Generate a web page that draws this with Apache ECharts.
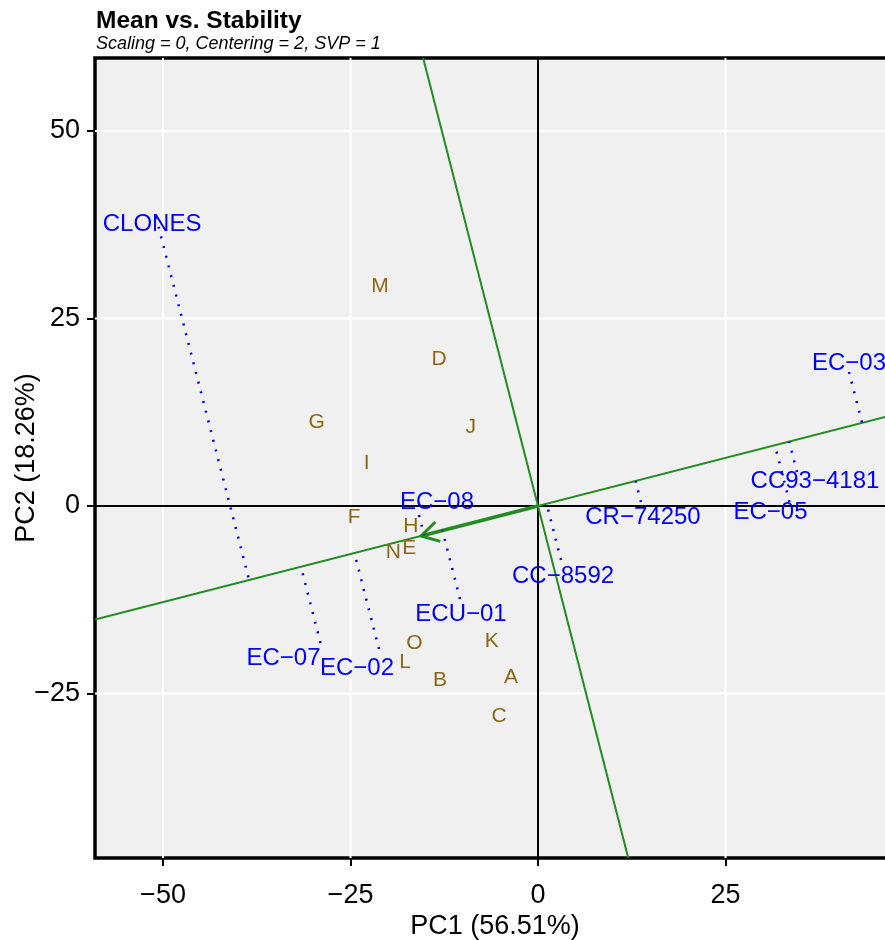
<!DOCTYPE html>
<html><head><meta charset="utf-8">
<script src="https://cdn.jsdelivr.net/npm/echarts@6/dist/echarts.min.js"></script>
<style>html,body{margin:0;padding:0;background:#fff}#c{width:885px;height:940px}</style>
</head><body><div id="c"></div>
<script>
// ---- data ----
const envNames = ['M','D','G','J','I','F','H','E','N','O','L','B','K','A','C'];
const envPC1 = [-21.07,-13.2,-29.51,-8.97,-22.84,-24.53,-16.97,-17.16,-19.29,-16.49,-17.73,-13.07,-6.17,-3.6,-5.2];
const envPC2 = [29.24,19.6,11.11,10.57,5.77,-1.51,-2.63,-5.64,-6.17,-18.31,-20.76,-23.2,-18.09,-22.76,-28.0];
const genoNames = ['CLONES','EC\u221208','ECU\u221201','CC\u22128592','CR\u221274250','EC\u221203','CC93\u22124181','EC\u221205','EC\u221207','EC\u221202'];
const genoPC1 = [-50.93,-15.87,-10.4,3.07,13.73,41.47,34.53,33.53,-29.0,-21.2];
const genoPC2 = [38.53,-1.2,-12.4,-7.2,0.53,17.87,4.53,0.53,-18.27,-19.07];
const aec = [-15.6, -4.0];           // average environment coordinate (arrow tip)
const xTicks = [-50,-25,0,25];
const yTicks = [-25,0,25,50];
const xRange = [-59.07, 47.6];
const yRange = [-46.93, 59.73];

// ---- layout (pixel offsets of genotype labels from their points) ----
const genoLabelOffset = [[-4,7],[18,-13],[1,15],[2,16],[2,15],[0,-9],[18,9],[-19,10],[-37,15],[-22,19]];

const BLUE = '#0000FF', BROWN = '#8B6914', GREEN = '#228B22';
const FONT = '"Liberation Sans", Arial, Helvetica, sans-serif';
const minus = v => String(v).replace('-', '\u2212');

const chart = echarts.init(document.getElementById('c'), null, {renderer: 'canvas'});

const gridItems = xTicks.map(v => ['x', v]).concat(yTicks.map(v => ['y', v]));

function lineSeg(api, a, b, style) {
  const p = api.coord(a), q = api.coord(b);
  return {type: 'line', shape: {x1: p[0], y1: p[1], x2: q[0], y2: q[1]}, style: style};
}

const slope = aec[1] / aec[0];
const aLen2 = aec[0]*aec[0] + aec[1]*aec[1];

const option = {
  animation: false,
  backgroundColor: '#fff',
  textStyle: {fontFamily: FONT},
  title: [
    {text: 'Mean vs. Stability', left: 91, top: 4, padding: 5,
     textStyle: {fontFamily: FONT, fontSize: 24.5, fontWeight: 'bold', color: '#000'}},
    {text: 'Scaling = 0, Centering = 2, SVP = 1', left: 91, top: 30, padding: 5,
     textStyle: {fontFamily: FONT, fontSize: 18, fontStyle: 'italic', fontWeight: 'normal', color: '#000'}}
  ],
  grid: {left: 95, top: 58, width: 800, height: 800, show: true, outerBoundsMode: 'none',
         backgroundColor: '#F0F0F0', borderColor: '#000', borderWidth: 3.5, containLabel: false},
  xAxis: {
    type: 'value', min: xRange[0], max: xRange[1],
    axisLine: {show: false, onZero: false}, splitLine: {show: false},
    axisTick: {show: true, customValues: xTicks, length: 8, lineStyle: {color: '#000', width: 2}},
    axisLabel: {customValues: xTicks, formatter: v => minus(v), fontSize: 27, color: '#000', margin: 24, fontFamily: FONT},
    name: 'PC1 (56.51%)', nameLocation: 'middle', nameGap: 55, nameMoveOverlap: false,
    nameTextStyle: {fontSize: 27, color: '#000', fontFamily: FONT}
  },
  yAxis: {
    type: 'value', min: yRange[0], max: yRange[1],
    axisLine: {show: false, onZero: false}, splitLine: {show: false},
    axisTick: {show: true, customValues: yTicks, length: 8, lineStyle: {color: '#000', width: 2}},
    axisLabel: {customValues: yTicks, formatter: v => minus(v), fontSize: 27, color: '#000', margin: 15, fontFamily: FONT},
    name: 'PC2 (18.26%)', nameLocation: 'middle', nameGap: 55, nameRotate: 90, nameMoveOverlap: false,
    nameTextStyle: {fontSize: 27, color: '#000', fontFamily: FONT}
  },
  series: [
    { // white grid lines
      type: 'custom', z: 1, silent: true, clip: true,
      data: gridItems.map((g, i) => [i]),
      renderItem: (params, api) => {
        const g = gridItems[params.dataIndex];
        const st = {stroke: '#FFFFFF', lineWidth: 2};
        return g[0] === 'x' ? lineSeg(api, [g[1], yRange[0]], [g[1], yRange[1]], st)
                            : lineSeg(api, [xRange[0], g[1]], [xRange[1], g[1]], st);
      }
    },
    { // black zero axes
      type: 'custom', z: 2, silent: true, clip: true,
      data: [[0], [1]],
      renderItem: (params, api) => {
        const st = {stroke: '#000', lineWidth: 2};
        return params.dataIndex === 0 ? lineSeg(api, [0, yRange[0]], [0, yRange[1]], st)
                                      : lineSeg(api, [xRange[0], 0], [xRange[1], 0], st);
      }
    },
    { // ATC abscissa and ordinate, AEC arrow
      type: 'custom', z: 3, silent: true, clip: true,
      data: [[0], [1], [2]],
      renderItem: (params, api) => {
        const i = params.dataIndex;
        if (i === 0) return lineSeg(api, [xRange[0], slope*xRange[0]], [xRange[1], slope*xRange[1]], {stroke: GREEN, lineWidth: 2});
        if (i === 1) return lineSeg(api, [-slope*yRange[0], yRange[0]], [-slope*yRange[1], yRange[1]], {stroke: GREEN, lineWidth: 2});
        const o = api.coord([0, 0]), t = api.coord(aec);
        const dx = o[0]-t[0], dy = o[1]-t[1], L = Math.hypot(dx, dy);
        const ux = dx/L, uy = dy/L, len = 20, ang = Math.PI/6;
        const r = s => [t[0] + len*(ux*Math.cos(s*ang) - uy*Math.sin(s*ang)), t[1] + len*(ux*Math.sin(s*ang) + uy*Math.cos(s*ang))];
        const a1 = r(1), a2 = r(-1);
        return {type: 'group', children: [
          {type: 'line', shape: {x1: o[0], y1: o[1], x2: t[0], y2: t[1]}, style: {stroke: GREEN, lineWidth: 3.5}},
          {type: 'polyline', shape: {points: [a1, t, a2]}, style: {stroke: GREEN, lineWidth: 3, fill: null}}
        ]};
      }
    },
    { // dotted projections of genotypes onto the ATC abscissa
      type: 'custom', z: 4, silent: true, clip: true,
      data: genoNames.map((n, i) => [genoPC1[i], genoPC2[i]]),
      renderItem: (params, api) => {
        const x = api.value(0), y = api.value(1);
        const t = (x*aec[0] + y*aec[1]) / aLen2;
        return lineSeg(api, [x, y], [t*aec[0], t*aec[1]],
          {stroke: BLUE, lineWidth: 2.5, lineDash: [2, 8], lineCap: 'butt'});
      }
    },
    { // environment labels
      type: 'custom', z: 5, silent: true, clip: false,
      data: envNames.map((n, i) => [envPC1[i], envPC2[i]]),
      renderItem: (params, api) => {
        const p = api.coord([api.value(0), api.value(1)]);
        return {type: 'text', x: p[0], y: p[1], style: {text: envNames[params.dataIndex], fill: BROWN,
          font: '21px ' + FONT, align: 'center', verticalAlign: 'middle'}};
      }
    },
    { // genotype labels
      type: 'custom', z: 6, silent: true, clip: false,
      data: genoNames.map((n, i) => [genoPC1[i], genoPC2[i]]),
      renderItem: (params, api) => {
        const p = api.coord([api.value(0), api.value(1)]);
        const off = genoLabelOffset[params.dataIndex];
        return {type: 'text', x: p[0] + off[0], y: p[1] + off[1], style: {text: genoNames[params.dataIndex], fill: BLUE,
          font: '24px ' + FONT, align: 'center', verticalAlign: 'middle'}};
      }
    }
  ]
};
chart.setOption(option);
</script>
</body></html>
